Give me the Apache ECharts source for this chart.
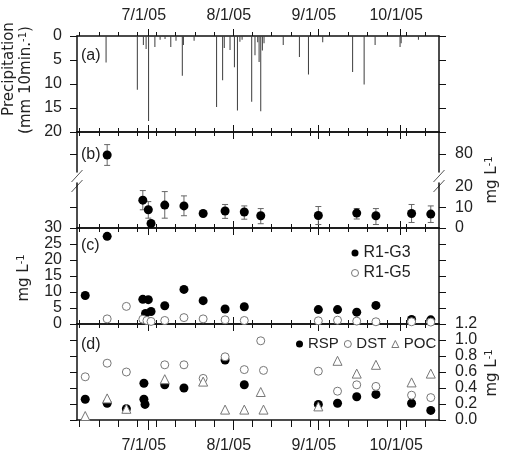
<!DOCTYPE html>
<html><head><meta charset="utf-8">
<script src="https://cdn.jsdelivr.net/npm/echarts@6/dist/echarts.min.js"></script>
<style>html,body{margin:0;padding:0;background:#fff}#c{width:506px;height:459px}</style>
</head><body><div id="c"></div>
<script>
// x values are day numbers counted from 1 June 2005 (7/1/05 = 30)
const monthTickDays = [30, 61, 92, 122];
const monthTickLabels = ['7/1/05', '8/1/05', '9/1/05', '10/1/05'];
const weekTickDays = [5, 12, 19, 26, 33, 40, 47, 54, 61, 68, 75, 82, 89, 96, 103, 110, 117, 124, 131];

// (a) precipitation, mm per 10 min
const precipDay = [14.6, 26.0, 28.2, 29.2, 30.1, 32.4, 34.3, 36.1, 38.2, 40.1, 42.4, 42.8, 46.7, 54.9, 57.1, 57.7, 59.8, 61.4, 62.5, 63.4, 64.2, 67.7, 68.9, 69.9, 70.4, 71.0, 71.6, 72.2, 79.2, 85.1, 88.4, 93.6, 104.5, 108.7, 112.7, 121.8, 122.2, 128.5];
const precipMm  = [5.5, 11.2, 1.9, 2.7, 17.7, 2.3, 0.8, 0.6, 2.3, 1.0, 8.3, 1.9, 1.0, 14.8, 9.2, 2.5, 2.9, 6.5, 15.5, 1.2, 0.8, 13.7, 4.0, 1.3, 5.4, 15.7, 3.0, 1.5, 1.9, 4.4, 8.0, 1.3, 7.5, 10.1, 1.9, 2.3, 1.5, 0.8];

// (b) mean with error range, mg/L
const bDay  = [15, 28, 30, 31, 36, 43, 50, 58, 65, 71, 92, 106, 113, 126, 133];
const bMean = [79.5, 13.6, 8.9, 2.2, 11.2, 10.8, 7.1, 8.3, 7.8, 6.0, 6.1, 7.3, 6.0, 7.1, 6.8];
const bLow  = [74.3, 8.9, 4.8, 1.5, 4.8, 6.0, 6.2, 4.7, 4.3, 2.1, 1.7, 4.4, 1.7, 2.7, 2.7];
const bHigh = [84.7, 18.3, 12.9, 3.0, 17.8, 15.7, 8.0, 11.5, 10.8, 9.5, 10.5, 9.5, 9.5, 11.5, 10.8];

// (c) mg/L
const g3Day = [7, 15, 28, 29, 30, 31, 36, 43, 50, 58, 65, 92, 99, 106, 113, 126, 133];
const g3Val = [8.9, 27.4, 7.7, 3.3, 7.6, 3.9, 5.7, 10.8, 7.3, 4.7, 5.4, 4.5, 4.5, 3.7, 5.8, 1.4, 1.3];
const g5Day = [15, 22, 28, 29.5, 31, 36, 43, 50, 58, 65, 92, 99, 106, 113, 126, 133];
const g5Val = [1.6, 5.5, 1.5, 1.1, 0.8, 1.1, 2.0, 1.6, 1.3, 1.1, 1.0, 1.2, 0.9, 0.7, 0.7, 0.6];

// (d) mg/L
const rspDay = [7, 15, 22, 28.4, 28.4, 28.8, 36, 43, 58, 65, 92, 99, 106, 113, 126, 133];
const rspVal = [0.26, 0.21, 0.14, 0.46, 0.26, 0.195, 0.44, 0.40, 0.75, 0.44, 0.195, 0.21, 0.29, 0.32, 0.21, 0.12];
const dstDay = [7, 15, 22, 36, 43, 50, 58, 65, 71, 72, 92, 99, 106, 113, 126, 133];
const dstVal = [0.54, 0.71, 0.60, 0.69, 0.69, 0.52, 0.79, 0.63, 0.99, 0.62, 0.61, 0.36, 0.44, 0.42, 0.31, 0.28];
const pocDay = [7, 15, 22, 36, 50, 58, 65, 71, 72, 92, 99, 106, 113, 126, 133];
const pocVal = [0.05, 0.27, 0.14, 0.51, 0.48, 0.13, 0.13, 0.35, 0.13, 0.17, 0.74, 0.58, 0.69, 0.47, 0.58];

const X_MIN = 4, X_MAX = 136;
const PLOT_LEFT = 77, PLOT_WIDTH = 362;
const GRIDS = [
  {top: 36, height: 96},   // (a)
  {top: 132, height: 40},  // (b) upper segment
  {top: 183, height: 45},  // (b) lower segment
  {top: 228, height: 96},  // (c)
  {top: 324, height: 96}   // (d)
];
const AX = '#111', TXT = '#222', FONT = 'Liberation Sans', TFONT = 'DejaVu Sans';
const lineStyle = {color: AX, width: 1.5};
const tickStyle = {color: AX, width: 1};

const xAxes = [];
function addX(grid, pos, ticks, len, line, label) {
  xAxes.push({
    type: 'value', gridIndex: grid, position: pos, min: X_MIN, max: X_MAX,
    axisLine: {show: line, onZero: false, lineStyle: lineStyle},
    axisTick: {show: true, length: len, customValues: ticks, lineStyle: tickStyle},
    axisLabel: label || {show: false},
    splitLine: {show: false}
  });
  return xAxes.length - 1;
}
function monthLabel(margin) {
  return {show: true, customValues: monthTickDays, margin: margin, fontSize: 16, fontFamily: FONT, color: TXT,
    padding: [0, 9, 0, 0],
    formatter: v => monthTickLabels[monthTickDays.indexOf(Math.round(v))] || ''};
}
const xa = addX(0, 'top', weekTickDays, 4, true);
addX(0, 'top', monthTickDays, 7, false, monthLabel(12));
addX(0, 'bottom', weekTickDays, 4, true);
addX(0, 'bottom', monthTickDays, 7, false);
const xb1 = addX(1, 'top', weekTickDays, 4, true);
addX(1, 'top', monthTickDays, 7, false);
const xb2 = addX(2, 'bottom', weekTickDays, 4, true);
addX(2, 'bottom', monthTickDays, 7, false);
const xc = addX(3, 'top', weekTickDays, 4, true);
addX(3, 'top', monthTickDays, 7, false);
addX(3, 'bottom', weekTickDays, 4, true);
addX(3, 'bottom', monthTickDays, 7, false);
const xd = addX(4, 'top', weekTickDays, 4, true);
addX(4, 'top', monthTickDays, 7, false);
addX(4, 'bottom', weekTickDays, 7, true);
addX(4, 'bottom', monthTickDays, 10, false, monthLabel(18));

const yAxes = [];
function addY(grid, pos, cfg, tickVals, label) {
  const ax = Object.assign({
    type: 'value', gridIndex: grid, position: pos,
    axisLine: {show: true, onZero: false, lineStyle: lineStyle},
    axisTick: {show: true, length: 7, lineStyle: tickStyle},
    axisLabel: {show: false},
    splitLine: {show: false}
  }, cfg);
  if (tickVals) ax.axisTick.customValues = tickVals;
  if (label) ax.axisLabel = Object.assign({show: true, fontSize: 16, fontFamily: FONT, color: TXT,
    margin: pos === 'left' ? 15 : 16}, label);
  yAxes.push(ax);
  return yAxes.length - 1;
}
const ya = addY(0, 'left', {min: 0, max: 20, interval: 5, inverse: true}, null, {});
addY(0, 'right', {min: 0, max: 20, interval: 5, inverse: true});
const yb1 = addY(1, 'left', {min: 71, max: 91}, [80]);
addY(1, 'right', {min: 71, max: 91}, [80], {customValues: [80]});
const yb2 = addY(2, 'left', {min: 0, max: 22}, [0, 10]);
addY(2, 'right', {min: 0, max: 22}, [0, 10], {customValues: [0, 10, 20]});
const yc = addY(3, 'left', {min: 0, max: 30, interval: 5}, null, {});
addY(3, 'right', {min: 0, max: 30, interval: 5});
addY(4, 'left', {min: 0, max: 1.2, interval: 0.2});
const yd = addY(4, 'right', {min: 0, max: 1.2, interval: 0.2}, null, {formatter: v => v.toFixed(1)});

function errRender(params, api) {
  const x = api.value(0), lo = api.value(1), hi = api.value(2);
  const p1 = api.coord([x, lo]), p2 = api.coord([x, hi]);
  const w = 3, st = {stroke: '#666', lineWidth: 1};
  return {type: 'group', children: [
    {type: 'line', shape: {x1: p1[0], y1: p1[1], x2: p2[0], y2: p2[1]}, style: st},
    {type: 'line', shape: {x1: p1[0] - w, y1: p1[1], x2: p1[0] + w, y2: p1[1]}, style: st},
    {type: 'line', shape: {x1: p2[0] - w, y1: p2[1], x2: p2[0] + w, y2: p2[1]}, style: st}
  ]};
}
const idx = bDay.map((d, i) => i);
const upIdx = idx.filter(i => bMean[i] > 50), loIdx = idx.filter(i => bMean[i] <= 50);
const errData = ids => ids.map(i => [bDay[i], bLow[i], bHigh[i]]);
const ptData = ids => ids.map(i => [bDay[i], bMean[i]]);
const pair = (xs, ys) => xs.map((x, i) => [x, ys[i]]);

const filled = {color: '#000', opacity: 1, borderWidth: 0};
const open = {color: '#fff', borderColor: '#777', borderWidth: 1, opacity: 1};

const option = {
  animation: false,
  backgroundColor: '#fff',
  textStyle: {fontFamily: FONT},
  grid: GRIDS.map(g => ({left: PLOT_LEFT, width: PLOT_WIDTH, top: g.top, height: g.height, outerBoundsMode: 'none', containLabel: false})),
  xAxis: xAxes,
  yAxis: yAxes,
  legend: [
    {data: ['R1-G3', 'R1-G5'], orient: 'vertical', left: 346, top: 240, itemWidth: 7, itemHeight: 7, itemGap: 4,
      selectedMode: false, itemStyle: {borderWidth: 1},
      textStyle: {fontSize: 16, lineHeight: 16, color: TXT, fontFamily: FONT}},
    {data: ['RSP', 'DST', 'POC'], orient: 'horizontal', left: 291, top: 331, itemWidth: 7, itemHeight: 7, itemGap: 5,
      selectedMode: false, itemStyle: {borderWidth: 1},
      textStyle: {fontSize: 15, lineHeight: 16, color: TXT, fontFamily: FONT}}
  ],
  series: [
    {type: 'bar', name: 'Precipitation', xAxisIndex: xa, yAxisIndex: ya, barWidth: 1,
      data: pair(precipDay, precipMm), itemStyle: {color: '#3c3c3c', opacity: 1}, silent: true},
    {type: 'custom', xAxisIndex: xb1, yAxisIndex: yb1, renderItem: errRender, encode: {x: 0, y: [1, 2]}, data: errData(upIdx), silent: true},
    {type: 'scatter', xAxisIndex: xb1, yAxisIndex: yb1, symbolSize: 9, itemStyle: filled, data: ptData(upIdx), silent: true},
    {type: 'custom', xAxisIndex: xb2, yAxisIndex: yb2, renderItem: errRender, encode: {x: 0, y: [1, 2]}, data: errData(loIdx), silent: true},
    {type: 'scatter', xAxisIndex: xb2, yAxisIndex: yb2, symbolSize: 9, itemStyle: filled, data: ptData(loIdx), silent: true},
    {type: 'scatter', name: 'R1-G3', xAxisIndex: xc, yAxisIndex: yc, symbol: 'circle', symbolSize: 9, itemStyle: filled, data: pair(g3Day, g3Val), silent: true},
    {type: 'scatter', name: 'R1-G5', xAxisIndex: xc, yAxisIndex: yc, symbol: 'circle', symbolSize: 8, itemStyle: open, data: pair(g5Day, g5Val), silent: true},
    {type: 'scatter', name: 'RSP', xAxisIndex: xd, yAxisIndex: yd, symbol: 'circle', symbolSize: 9, itemStyle: filled, data: pair(rspDay, rspVal), silent: true},
    {type: 'scatter', name: 'DST', xAxisIndex: xd, yAxisIndex: yd, symbol: 'circle', symbolSize: 8, itemStyle: open, data: pair(dstDay, dstVal), silent: true},
    {type: 'scatter', name: 'POC', xAxisIndex: xd, yAxisIndex: yd, symbol: 'triangle', symbolSize: 9, itemStyle: open, data: pair(pocDay, pocVal), silent: true}
  ],
  graphic: [
    // panel letters
    {type: 'text', x: 81, y: 56, style: {text: '(a)', fontSize: 16, fontFamily: FONT, fill: TXT, verticalAlign: 'middle'}},
    {type: 'text', x: 81, y: 155, style: {text: '(b)', fontSize: 16, fontFamily: FONT, fill: TXT, verticalAlign: 'middle'}},
    {type: 'text', x: 81, y: 246, style: {text: '(c)', fontSize: 16, fontFamily: FONT, fill: TXT, verticalAlign: 'middle'}},
    {type: 'text', x: 81, y: 345, style: {text: '(d)', fontSize: 16, fontFamily: FONT, fill: TXT, verticalAlign: 'middle'}},
    // axis titles
    {type: 'text', x: 9, y: 69, rotation: Math.PI / 2, style: {text: 'Precipitation', fontSize: 15, fontFamily: TFONT, fill: TXT, align: 'center', verticalAlign: 'middle'}},
    {type: 'text', x: 26, y: 80, rotation: Math.PI / 2, style: {text: '{n|(mm 10min.}{s|-1}{n|)}', align: 'center', verticalAlign: 'middle',
      rich: {n: {fontSize: 15, fontFamily: TFONT, fill: TXT}, s: {fontSize: 10, fontFamily: TFONT, fill: TXT, verticalAlign: 'top'}}}},
    {type: 'text', x: 24, y: 278, rotation: Math.PI / 2, style: {text: '{n|mg L}{s|-1}', align: 'center', verticalAlign: 'middle',
      rich: {n: {fontSize: 15, fontFamily: TFONT, fill: TXT}, s: {fontSize: 10, fontFamily: TFONT, fill: TXT, verticalAlign: 'top'}}}},
    {type: 'text', x: 492, y: 180, rotation: Math.PI / 2, style: {text: '{n|mg L}{s|-1}', align: 'center', verticalAlign: 'middle',
      rich: {n: {fontSize: 15, fontFamily: TFONT, fill: TXT}, s: {fontSize: 10, fontFamily: TFONT, fill: TXT, verticalAlign: 'top'}}}},
    {type: 'text', x: 492, y: 373, rotation: Math.PI / 2, style: {text: '{n|mg L}{s|-1}', align: 'center', verticalAlign: 'middle',
      rich: {n: {fontSize: 15, fontFamily: TFONT, fill: TXT}, s: {fontSize: 10, fontFamily: TFONT, fill: TXT, verticalAlign: 'top'}}}},
    // axis break marks
    {type: 'line', shape: {x1: PLOT_LEFT - 5.5, y1: 182, x2: PLOT_LEFT + 5.5, y2: 170}, style: {stroke: '#555', lineWidth: 1}},
    {type: 'line', shape: {x1: PLOT_LEFT - 5.5, y1: 192, x2: PLOT_LEFT + 5.5, y2: 180}, style: {stroke: '#555', lineWidth: 1}},
    {type: 'line', shape: {x1: PLOT_LEFT + PLOT_WIDTH - 5.5, y1: 182, x2: PLOT_LEFT + PLOT_WIDTH + 5.5, y2: 170}, style: {stroke: '#555', lineWidth: 1}},
    {type: 'line', shape: {x1: PLOT_LEFT + PLOT_WIDTH - 5.5, y1: 192, x2: PLOT_LEFT + PLOT_WIDTH + 5.5, y2: 180}, style: {stroke: '#555', lineWidth: 1}}
  ]
};
const chart = echarts.init(document.getElementById('c'), null, {renderer: 'canvas', width: 506, height: 459});
chart.setOption(option);
</script>
</body></html>
